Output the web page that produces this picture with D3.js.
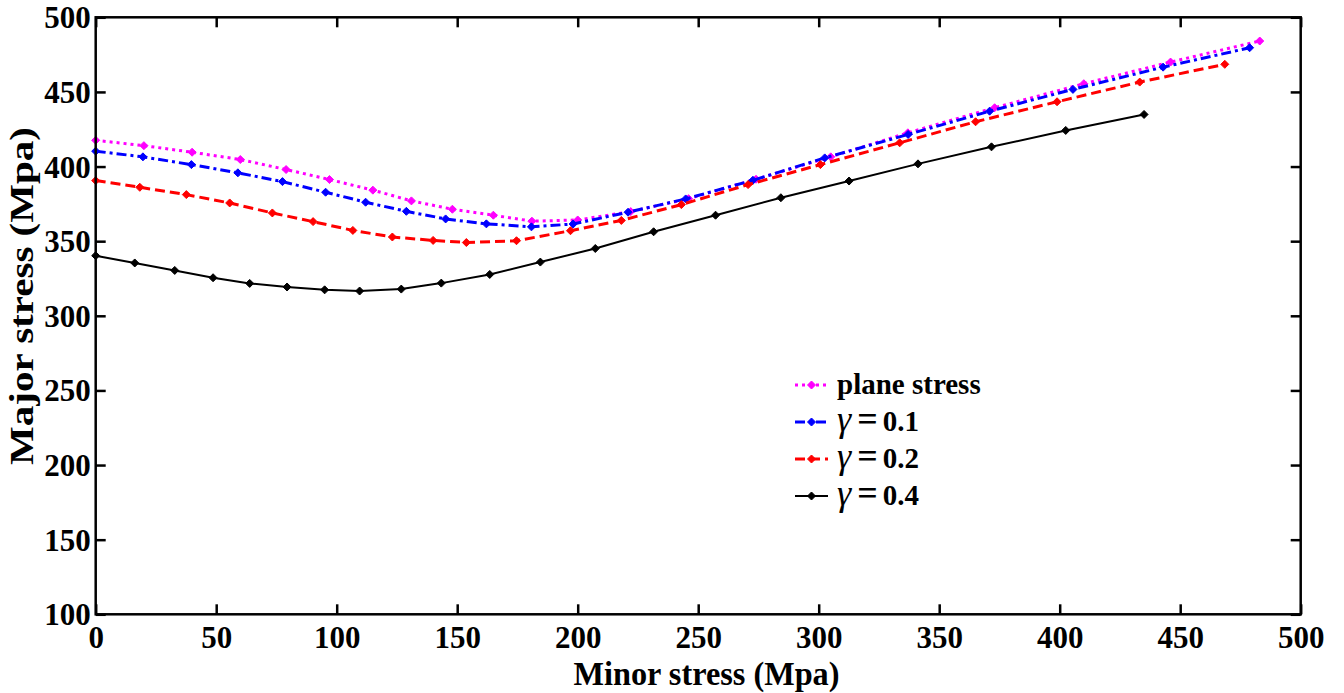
<!DOCTYPE html>
<html><head><meta charset="utf-8">
<script src="https://cdn.jsdelivr.net/npm/d3@7"></script>
<style>body{margin:0;background:#fff}svg{display:block}</style>
</head><body>
<svg id="c" width="1344" height="693"></svg>
<script>
const xTicks = [0,50,100,150,200,250,300,350,400,450,500];
const yTicks = [100,150,200,250,300,350,400,450,500];

const planeX = [0,20,40,60,79,97,115,131,148,165,181,200,222,246,274,305,337,373,410,446,483];
const planeY = [417.6,414,409.6,404.7,398,391.3,384.2,377,371.4,367.4,363.4,364.2,369.8,378.5,391.5,406.5,422.6,439.4,455.5,470,484.1];

const g01X = [0,19.6,39.7,59,77.5,95.4,112,128.9,145.2,162.1,180.8,198.1,220.9,244.8,272.7,302.5,337.1,370.9,405.5,442.9,478.8];
const g01Y = [410.3,406.5,401.3,395.8,389.9,382.8,376.1,370,364.9,361.6,359.6,361.5,369.4,378.3,390.8,405.8,421.5,437.1,451.7,466.6,479.6];

const g02X = [0,18.3,37.6,55.6,73.3,90.2,106.7,123.1,140,153.8,174.6,197,218.1,243,270.7,300.7,333.6,365.1,398.9,433.2,468.5];
const g02Y = [390.6,386.1,381.2,375.6,368.9,363.1,357.2,352.8,350.5,349.1,350.3,357,363.9,374.5,387.9,401.3,415.9,430,443.4,456.6,468.5];

const g04X = [0,16.2,32.8,48.7,63.9,79.4,95,109.5,126.8,143.4,163.5,184.5,207.3,231.5,257.2,284.3,312.6,341.2,371.7,402.5,435];
const g04Y = [340.3,335.4,330.4,325.5,321.7,319.3,317.4,316.6,317.9,321.9,327.7,336,345.1,356.3,367.4,379.1,390.3,401.8,413.2,424.2,434.9];

const seriesNames = ["plane stress","0.1","0.2","0.4"];

const series = [
  {name: seriesNames[0], xs: planeX, ys: planeY, color:"#ff00ff", dash:"3,4", w:3, gamma:false},
  {name: seriesNames[1], xs: g01X, ys: g01Y, color:"#0000ff", dash:"10,4,3,4", w:3, gamma:true},
  {name: seriesNames[2], xs: g02X, ys: g02Y, color:"#ff0000", dash:"10,5", w:3, gamma:true},
  {name: seriesNames[3], xs: g04X, ys: g04Y, color:"#000000", dash:null, w:2, gamma:true}
];

const L = 95.7, R = 1300.7, T = 17.3, B = 614.3;
const x = d3.scaleLinear().domain([0,500]).range([L,R]);
const y = d3.scaleLinear().domain([100,500]).range([B,T]);

const svg = d3.select("#c");
const font = "'Liberation Serif','Times New Roman',serif";

const line = d3.line().x(d=>x(d[0])).y(d=>y(d[1]));
const plot = svg.append("g");
function marker(g, cx, cy, color){
  const s = 4;
  g.append("path").attr("d",`M${cx-s},${cy}L${cx},${cy-s}L${cx+s},${cy}L${cx},${cy+s}Z`)
    .attr("fill",color).attr("stroke",color).attr("stroke-width",1);
}
series.forEach(s=>{
  const pts = s.xs.map((v,i)=>[v,s.ys[i]]);
  plot.append("path").datum(pts).attr("d",line).attr("fill","none")
    .attr("stroke",s.color).attr("stroke-width",s.w)
    .attr("stroke-dasharray",s.dash);
  pts.forEach(p=>marker(plot, x(p[0]), y(p[1]), s.color));
});

const axB = svg.append("g").attr("transform",`translate(0,${B})`)
  .call(d3.axisBottom(x).tickValues(xTicks).tickSize(-10).tickPadding(10));
const axL = svg.append("g").attr("transform",`translate(${L},0)`)
  .call(d3.axisLeft(y).tickValues(yTicks).tickSize(-10).tickPadding(5));
const axT = svg.append("g").attr("transform",`translate(0,${T})`)
  .call(d3.axisTop(x).tickValues(xTicks).tickSize(-10).tickFormat(""));
const axR = svg.append("g").attr("transform",`translate(${R},0)`)
  .call(d3.axisRight(y).tickValues(yTicks).tickSize(-10).tickFormat(""));
[axB,axL,axT,axR].forEach(a=>{
  a.select(".domain").remove();
  a.selectAll(".tick line").attr("stroke","#000").attr("stroke-width",2.5);
  a.selectAll(".tick text").attr("fill","#000").style("font-family",font)
    .style("font-weight","bold").style("font-size","31px");
});
axB.selectAll(".tick text").attr("dy","0.76em");
axL.selectAll(".tick text").attr("dy","0.34em");

svg.append("rect").attr("x",L).attr("y",T).attr("width",R-L).attr("height",B-T)
  .attr("fill","none").attr("stroke","#000").attr("stroke-width",2.5);

svg.append("text").attr("x",(573+840)/2).attr("y",685).attr("text-anchor","middle")
  .style("font-family",font).style("font-weight","bold").style("font-size","33px")
  .attr("textLength",266).attr("lengthAdjust","spacingAndGlyphs")
  .text("Minor stress (Mpa)");
svg.append("text").attr("transform","translate(33,296) rotate(-90)").attr("text-anchor","middle")
  .style("font-family",font).style("font-weight","bold").style("font-size","33px")
  .attr("textLength",338).attr("lengthAdjust","spacingAndGlyphs")
  .text("Major stress (Mpa)");

const leg = svg.append("g");
const rowY = [385,422,459,496];
series.forEach((s,i)=>{
  const yy = rowY[i];
  leg.append("line").attr("x1",795).attr("x2",828).attr("y1",yy).attr("y2",yy)
    .attr("stroke",s.color).attr("stroke-width",s.w).attr("stroke-dasharray",s.dash);
  marker(leg, 811.5, yy, s.color);
  const t = leg.append("text").attr("x",837).attr("y",yy+9)
    .style("font-family",font).style("font-size","29px").attr("fill","#000");
  if(!s.gamma){
    t.style("font-weight","bold").text(s.name);
  } else {
    t.append("tspan").style("font-style","italic").style("font-size","36px").text("γ");
    t.append("tspan").attr("dx",6).style("font-weight","bold").style("font-size","36px").text("=");
    t.append("tspan").attr("dx",5).style("font-weight","bold").text(s.name);
  }
});
</script>
</body></html>
